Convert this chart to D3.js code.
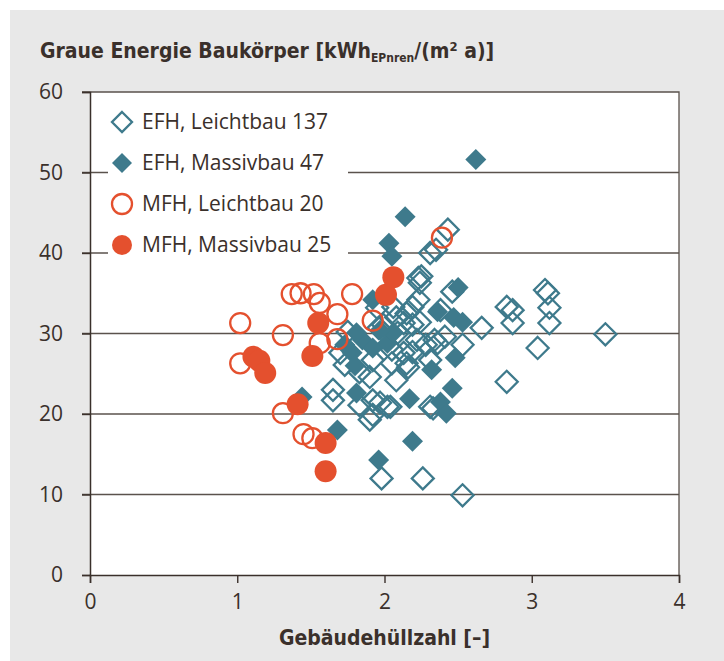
<!DOCTYPE html>
<html>
<head>
<meta charset="utf-8">
<script src="https://cdn.jsdelivr.net/npm/d3@7"></script>
<style>
  html, body { margin: 0; padding: 0; background: #fff; }
  svg { display: block; }
  .cond { font-family: 'Liberation Sans Narrow', 'DejaVu Sans Condensed', sans-serif; font-stretch: condensed; }
  .txt { font-family: 'Open Sans', 'Noto Sans', sans-serif; }
</style>
</head>
<body>
<script>
// series labels (legend)
const seriesLabels = ['EFH, Leichtbau 137', 'EFH, Massivbau 47', 'MFH, Leichtbau 20', 'MFH, Massivbau 25'];
const xTicks = [0, 1, 2, 3, 4];
const yTicks = [0, 10, 20, 30, 40, 50, 60];

// [Gebäudehüllzahl, graue Energie]
const efhLeicht = [
  [3.50, 29.9], [3.04, 28.2], [2.83, 24.0], [2.53, 9.9], [2.26, 12.0], [1.98, 12.0],
  [3.09, 35.4], [3.11, 35.0], [3.12, 33.2], [3.12, 31.3], [2.83, 33.3], [2.87, 32.9],
  [2.87, 31.3], [2.66, 30.7], [2.53, 28.6], [2.41, 29.6],
  [2.43, 42.9], [2.31, 40.0], [2.35, 40.4], [2.23, 36.9], [2.25, 37.1], [2.24, 36.3],
  [2.23, 34.2], [2.46, 35.2], [2.38, 32.9], [1.95, 33.2], [2.06, 33.3], [2.15, 32.5],
  [1.99, 31.1], [1.75, 30.2], [2.24, 31.4], [2.13, 31.3], [2.19, 31.1], [2.08, 32.0],
  [2.19, 33.3],
  [1.70, 27.6], [1.92, 26.7], [1.96, 30.7], [2.13, 27.6], [2.05, 26.3], [2.16, 25.8],
  [2.22, 29.2], [2.34, 29.2], [2.28, 28.6], [2.36, 28.8], [2.31, 26.7], [2.19, 27.7],
  [2.09, 30.1], [2.15, 26.3],
  [1.65, 23.0], [1.65, 21.7], [1.90, 24.6], [2.08, 24.2], [1.92, 21.7], [2.02, 20.9],
  [1.90, 19.3], [1.83, 21.1], [1.92, 19.9], [1.97, 21.4], [2.04, 20.9], [2.31, 20.9],
  [2.33, 20.7], [1.73, 26.1], [1.83, 25.2], [2.05, 28.0]
];
const efhMassiv = [
  [2.62, 51.6], [2.14, 44.5], [2.03, 41.2], [2.05, 39.6], [2.50, 35.7], [1.92, 34.2],
  [2.36, 32.7], [2.47, 32.0], [2.53, 31.4], [2.48, 27.0], [2.32, 25.5], [2.46, 23.2],
  [2.38, 21.5], [2.42, 20.1], [2.17, 21.9], [1.81, 22.6], [1.44, 22.1], [1.68, 18.0],
  [2.19, 16.6], [1.96, 14.3], [1.78, 27.6], [1.85, 29.2], [1.92, 28.2], [2.02, 28.8],
  [2.06, 30.1], [1.81, 30.1], [1.80, 26.0], [1.97, 30.4], [1.73, 28.6]
];
const mfhLeicht = [
  [1.02, 31.3], [1.02, 26.3], [1.31, 29.8], [1.31, 20.1], [1.37, 34.9], [1.43, 35.0],
  [1.52, 34.9], [1.56, 33.8], [1.78, 34.9], [1.68, 32.4], [1.56, 28.8], [1.68, 29.3],
  [1.45, 17.5], [1.51, 17.0], [1.92, 31.6], [2.39, 41.9]
];
const mfhMassiv = [
  [1.11, 27.1], [1.15, 26.6], [1.19, 25.1], [1.55, 31.3], [1.51, 27.2], [1.41, 21.2],
  [1.60, 16.4], [1.60, 12.9], [2.01, 34.8], [2.06, 37.0]
];

const W = 724, H = 661;
const teal = '#3e7a8c';
const red = '#e4502e';
const ink = '#3a302b';
const gridCol = '#5a524c';

const margin = {left: 90, right: 45, top: 92, bottom: 86};

const svg = d3.select('body').append('svg')
  .attr('width', W)
  .attr('height', H);

// grey panel
svg.append('rect')
  .attr('x', 10).attr('y', 10)
  .attr('width', W - 10).attr('height', H - 10)
  .attr('fill', '#e8e8e8');

const x = d3.scaleLinear().domain([0, 4]).range([margin.left, W - margin.right]);
const y = d3.scaleLinear().domain([0, 60]).range([H - margin.bottom, margin.top]);

// plot area
svg.append('rect')
  .attr('x', x(0)).attr('y', y(60))
  .attr('width', x(4) - x(0)).attr('height', y(0) - y(60))
  .attr('fill', '#fff');

// horizontal grid lines
svg.append('g')
  .selectAll('line')
  .data(yTicks.filter((d) => d > 0 && d < 60))
  .join('line')
  .attr('x1', x(0) - 8).attr('x2', x(4))
  .attr('y1', (d) => y(d)).attr('y2', (d) => y(d))
  .attr('stroke', gridCol)
  .attr('stroke-width', 1.6);

// frame: top + right
svg.append('path')
  .attr('d', `M${x(0) - 8},${y(60)}H${x(4)}V${y(0)}`)
  .attr('fill', 'none')
  .attr('stroke', gridCol)
  .attr('stroke-width', 1.3);

// axes
const yAxis = d3.axisLeft(y).tickValues(yTicks).tickSize(8).tickPadding(19).tickFormat(d3.format('d'));
const xAxis = d3.axisBottom(x).tickValues(xTicks).tickSize(8).tickPadding(8).tickFormat(d3.format('d'));

const gy = svg.append('g')
  .attr('transform', `translate(${x(0)},0)`)
  .call(yAxis);
const gx = svg.append('g')
  .attr('transform', `translate(0,${y(0)})`)
  .call(xAxis);

[gx, gy].forEach((g) => {
  g.select('.domain').attr('stroke', ink).attr('stroke-width', 1.5);
  g.selectAll('.tick line').attr('stroke', ink).attr('stroke-width', 1.4);
  g.selectAll('.tick text')
    .attr('class', 'txt')
    .attr('fill', ink)
    .attr('font-size', 21);
});
gx.selectAll('.tick text').attr('dy', '0.85em');

function diamondPath(h) {
  return `M0,${-h}L${h},0L0,${h}L${-h},0Z`;
}

const series = [
  {data: efhLeicht, shape: 'diamond', fill: false, color: teal, size: 11},
  {data: efhMassiv, shape: 'diamond', fill: true, color: teal, size: 10.5},
  {data: mfhLeicht, shape: 'circle', fill: false, color: red, size: 10},
  {data: mfhMassiv, shape: 'circle', fill: true, color: red, size: 11}
];

function drawMarker(sel, s, size) {
  if (s.shape === 'diamond') {
    sel.append('path').attr('d', diamondPath(size));
  } else {
    sel.append('circle').attr('r', size);
  }
  sel.select(s.shape === 'diamond' ? 'path' : 'circle')
    .attr('fill', s.fill ? s.color : 'none')
    .attr('stroke', s.fill ? 'none' : s.color)
    .attr('stroke-width', 2.3);
}

// legend box (white, hides grid lines)
const legendX = 122;
const legendY0 = 122;
const legendStep = 41;

svg.append('rect')
  .attr('x', 108).attr('y', 100)
  .attr('width', 240).attr('height', 164)
  .attr('fill', '#fff');

// points
series.forEach((s) => {
  svg.append('g')
    .selectAll('g')
    .data(s.data)
    .join('g')
    .attr('transform', (d) => `translate(${x(d[0])},${y(d[1])})`)
    .each(function() { drawMarker(d3.select(this), s, s.size); });
});

const legend = svg.append('g');
series.forEach((s, i) => {
  const g = legend.append('g')
    .attr('transform', `translate(${legendX},${legendY0 + i * legendStep})`);
  drawMarker(g, s, 10);
  g.append('text')
    .attr('class', 'txt')
    .attr('x', 20)
    .attr('dy', '0.35em')
    .attr('font-size', 21)
    .attr('fill', ink)
    .attr('textLength', i === 0 ? 186 : null)
    .text(seriesLabels[i]);
});

// title
const title = svg.append('text')
  .attr('class', 'cond')
  .attr('x', 40).attr('y', 58)
  .attr('font-size', 21)
  .attr('font-weight', 'bold')
  .attr('fill', ink);
title.append('tspan').text('Graue Energie Baukörper [kWh');
title.append('tspan').attr('font-size', 12).attr('dy', 4).text('EPnren');
title.append('tspan').attr('dy', -4).text('/(m');
title.append('tspan').attr('font-size', 13).attr('dy', -7).text('2');
title.append('tspan').attr('dy', 7).text(' a)]');

// x axis title
svg.append('text')
  .attr('class', 'cond')
  .attr('x', (x(0) + x(4)) / 2).attr('y', 645)
  .attr('text-anchor', 'middle')
  .attr('font-size', 21)
  .attr('font-weight', 'bold')
  .attr('fill', ink)
  .text('Gebäudehüllzahl [–]');
</script>
</body>
</html>
